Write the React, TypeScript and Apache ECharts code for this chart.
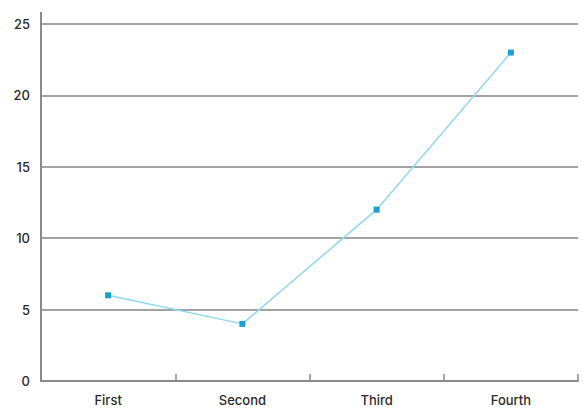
import React, { useEffect, useRef } from "react";
import * as echarts from "echarts";

const categories = ["First", "Second", "Third", "Fourth"];
const values = [6, 4, 12, 23];
const yTicks = { min: 0, max: 25, interval: 5 };

export default function App() {
  const ref = useRef<HTMLDivElement>(null);
  useEffect(() => {
    if (!ref.current) return;
    const chart = echarts.init(ref.current, null, { renderer: "svg" });
    const font = "Inter, 'Noto Sans', sans-serif";
    chart.setOption({
      animation: false,
      grid: { left: 41, right: 9, top: 24, bottom: 27 },
      graphic: [
        {
          type: "line",
          shape: { x1: 41, y1: 12, x2: 41, y2: 25 },
          style: { stroke: "#8a8a8a", lineWidth: 2 },
          silent: true,
        },
      ],
      xAxis: {
        type: "category",
        data: categories,
        boundaryGap: true,
        axisLine: { lineStyle: { color: "#8a8a8a", width: 2 } },
        axisTick: { show: true, inside: true, length: 7, lineStyle: { color: "#8a8a8a", width: 1.5 } },
        axisLabel: { color: "#2a2a2a", fontSize: 13, fontWeight: 500, fontFamily: font, margin: 12 },
      },
      yAxis: {
        type: "value",
        min: yTicks.min,
        max: yTicks.max,
        interval: yTicks.interval,
        axisLine: { show: true, lineStyle: { color: "#8a8a8a", width: 2 } },
        axisTick: { show: false },
        axisLabel: { color: "#2a2a2a", fontSize: 13, fontWeight: 500, fontFamily: font, margin: 11 },
        splitLine: { lineStyle: { color: "#858585", width: 1.5 } },
      },
      series: [
        {
          type: "line",
          data: values,
          symbol: "rect",
          symbolSize: 6,
          itemStyle: { color: "#1a9fd0" },
          lineStyle: { color: "#8fd8f0", width: 1.5 },
        },
      ],
    });
    return () => chart.dispose();
  }, []);
  return (
    <div
      ref={ref}
      style={{ position: "absolute", left: 0, top: 0, width: 587, height: 408 }}
    />
  );
}
